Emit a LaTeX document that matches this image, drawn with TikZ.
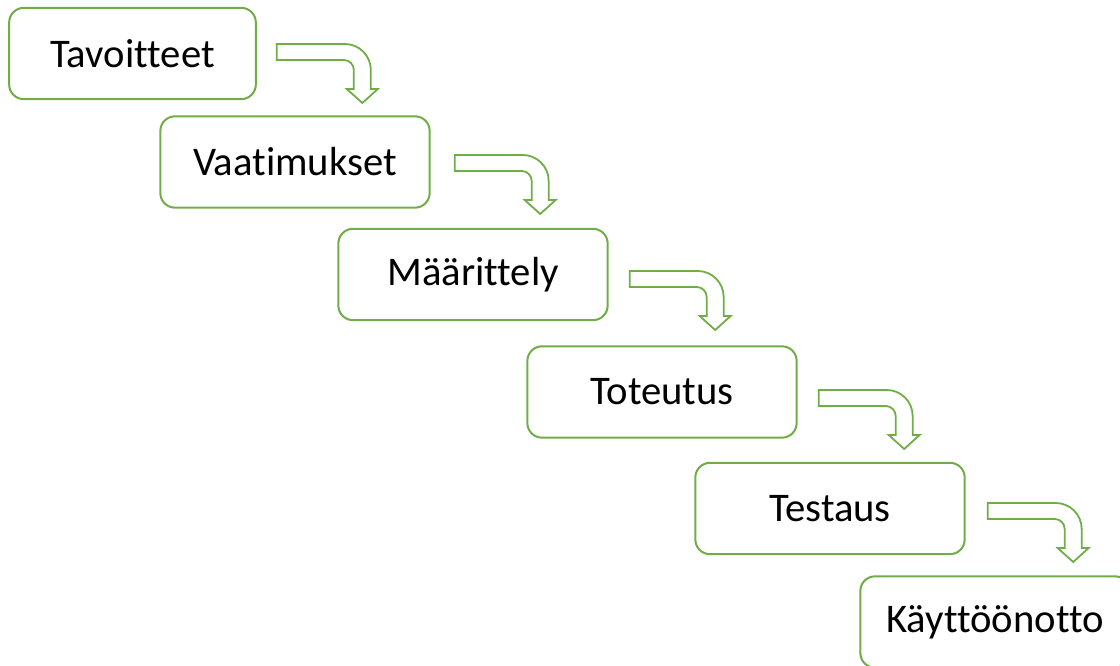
\documentclass[tikz,border=0pt]{standalone}
\usepackage{fontspec}
\setmainfont[Ligatures=NoCommon]{Carlito}
\usetikzlibrary{calc}
\definecolor{stepgreen}{HTML}{70AD47}
\tikzset{
    my-step-box/.style={
        rectangle, draw=stepgreen, line width=1.5pt, rounded corners=11pt,
        minimum width=202pt, minimum height=68.5pt, inner sep=0pt,
        font=\fontsize{30.5}{36}\selectfont
    },
    my-arrow-line/.style={
        draw=stepgreen, line width=1.35pt, line join=miter
    },
    pics/my-bent-arrow/.style={code={
        \draw[my-arrow-line] (0,0) -- (68,0) arc[start angle=90, end angle=0, radius=19.5pt]
            -- (94,-45) -- (101,-45) -- (85.5,-59) -- (70,-45) -- (77,-45) -- (77,-26)
            arc[start angle=0, end angle=90, radius=7.5pt] -- (0,-16) -- cycle;
    }},
}

\begin{document}
\begin{tikzpicture}[x=0.75pt, y=0.75pt]

        \useasboundingbox (0,0) rectangle (1120,666);
        \clip (0,0) rectangle (1120,666);

        % STEPS
        \node[my-step-box, minimum width=185pt] (TAV) at (132.5,612.5) {Tavoitteet};
        \node[my-step-box] (VAA) at (295,504)   {Vaatimukset};
        \node[my-step-box] (MAA) at (473,391.5) {Määrittely};
        \node[my-step-box] (TOT) at (662,274)   {Toteutus};
        \node[my-step-box] (TES) at (830,157.5) {Testaus};
        \node[my-step-box] (KAY) at (995,44)    {Käyttöönotto};

        % ARROW START POINTS
        \coordinate[] (ARROW1) at ($(TAV.east) + (20, 9.5)$);
        \coordinate[] (ARROW2) at ($(VAA.east) + (24, 7)$);
        \coordinate[] (ARROW3) at ($(MAA.east) + (21, 3.5)$);
        \coordinate[] (ARROW4) at ($(TOT.east) + (21, 2)$);
        \coordinate[] (ARROW5) at ($(TES.east) + (22, 5.5)$);

        % BENT ARROWS
        \pic at (ARROW1) {my-bent-arrow};
        \pic at (ARROW2) {my-bent-arrow};
        \pic at (ARROW3) {my-bent-arrow};
        \pic at (ARROW4) {my-bent-arrow};
        \pic at (ARROW5) {my-bent-arrow};

    \end{tikzpicture}
\end{document}
